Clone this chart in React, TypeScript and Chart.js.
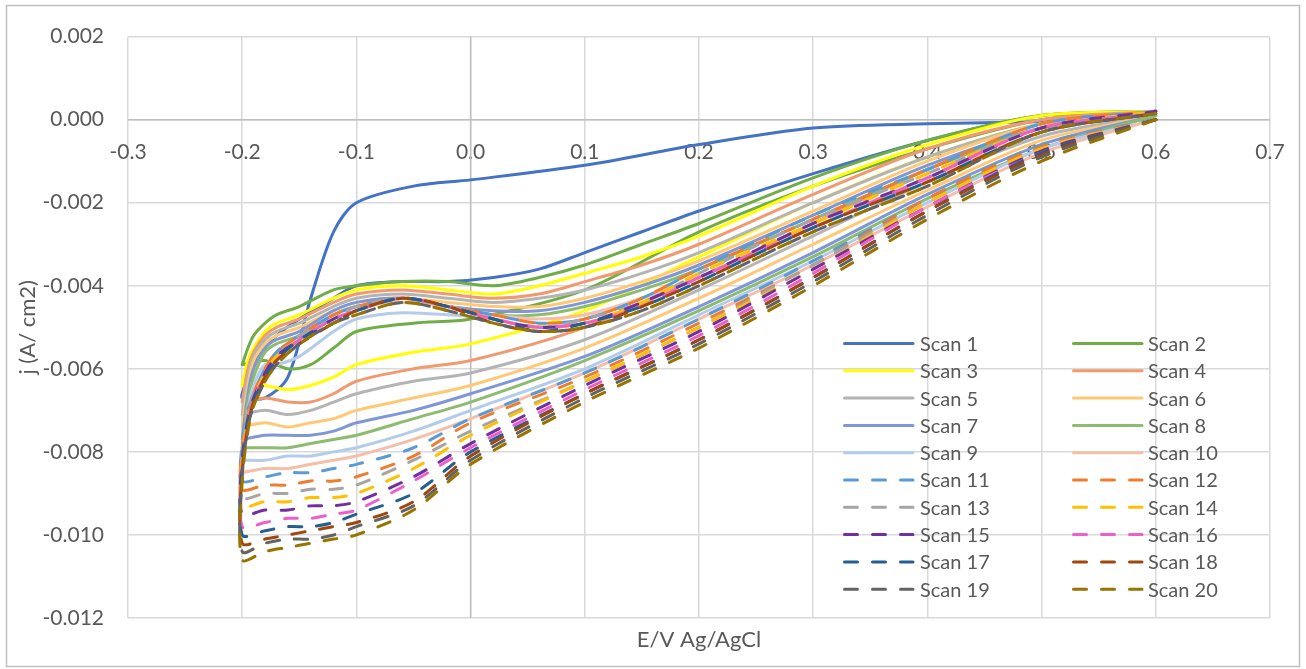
import React, { useEffect, useRef } from 'react';
import { Chart, registerables } from 'chart.js';

Chart.register(...registerables);

const scanLabels = [
  'Scan 1', 'Scan 2', 'Scan 3', 'Scan 4', 'Scan 5', 'Scan 6', 'Scan 7', 'Scan 8', 'Scan 9', 'Scan 10',
  'Scan 11', 'Scan 12', 'Scan 13', 'Scan 14', 'Scan 15', 'Scan 16', 'Scan 17', 'Scan 18', 'Scan 19', 'Scan 20',
];

const scanColors = [
  '#4472C4', '#70AD47', '#FFFF00', '#F19A6F', '#B4B4B4', '#FFC875', '#7F97D6', '#8DBB6F', '#B4CCEA', '#F4BFAA',
  '#5B9BD5', '#ED7D31', '#A5A5A5', '#FFC000', '#7030A0', '#EE5FCC', '#255E91', '#9E480E', '#636363', '#997300',
];

const dashedScans = [false, false, false, false, false, false, false, false, false, false,
  true, true, true, true, true, true, true, true, true, true];

// Cathodic sweep (0.6 V -> -0.2 V)
const lowerPotentials = [0.6, 0.5, 0.4, 0.3, 0.2, 0.1, 0.0, -0.05, -0.1, -0.12, -0.14, -0.16, -0.18, -0.2];

const lowerCurrents: number[][] = [
  [0.0, -0.00005, -0.0001, -0.0002, -0.0006, -0.0011, -0.00145, -0.0016, -0.002, -0.0027, -0.0043, -0.0062, -0.0067, -0.0067],
  [0.0002, 0.0, -0.0007, -0.0016, -0.0027, -0.0041, -0.0048, -0.0049, -0.0051, -0.0055, -0.0059, -0.006, -0.0058, -0.0059],
  [0.0002, -0.0001, -0.0009, -0.002, -0.0033, -0.0046, -0.0054, -0.0056, -0.0059, -0.0062, -0.0064, -0.0065, -0.0064, -0.0064],
  [0.0002, -0.0002, -0.0012, -0.0025, -0.0038, -0.005, -0.0058, -0.006, -0.0063, -0.0066, -0.0068, -0.0068, -0.0067, -0.0068],
  [0.0001, -0.0004, -0.0015, -0.0028, -0.0041, -0.0053, -0.0061, -0.0063, -0.0066, -0.0068, -0.007, -0.0071, -0.007, -0.0071],
  [0.0001, -0.0005, -0.0017, -0.003, -0.0043, -0.0055, -0.0064, -0.0067, -0.007, -0.0072, -0.0073, -0.0074, -0.0073, -0.0074],
  [0.0001, -0.0006, -0.0018, -0.0032, -0.0045, -0.0057, -0.0066, -0.007, -0.0073, -0.0075, -0.0076, -0.0076, -0.0076, -0.0077],
  [0.0001, -0.0007, -0.0019, -0.0033, -0.0046, -0.0058, -0.0068, -0.0072, -0.0076, -0.0077, -0.0078, -0.0079, -0.0079, -0.0079],
  [0.0, -0.0007, -0.002, -0.0034, -0.0047, -0.006, -0.007, -0.0075, -0.0079, -0.008, -0.0081, -0.0081, -0.0082, -0.0082],
  [0.0, -0.0008, -0.0021, -0.0035, -0.0048, -0.0061, -0.0072, -0.0077, -0.0081, -0.0082, -0.0083, -0.0084, -0.0084, -0.0085],
  [0.0, -0.0006, -0.0019, -0.0034, -0.0048, -0.0061, -0.0072, -0.0079, -0.0083, -0.0084, -0.0085, -0.0085, -0.0086, -0.0087],
  [0.0, -0.00065, -0.0019, -0.0035, -0.0049, -0.0062, -0.0073, -0.0081, -0.0086, -0.0087, -0.0087, -0.0088, -0.0088, -0.0089],
  [0.0, -0.0007, -0.002, -0.0035, -0.005, -0.0063, -0.0075, -0.0082, -0.0088, -0.0089, -0.0089, -0.009, -0.009, -0.0091],
  [0.0, -0.0007, -0.002, -0.0036, -0.005, -0.0063, -0.0076, -0.0084, -0.009, -0.0091, -0.0091, -0.0092, -0.0092, -0.0093],
  [0.0, -0.00075, -0.0021, -0.0036, -0.0051, -0.0064, -0.0078, -0.0086, -0.0092, -0.0093, -0.0093, -0.0094, -0.0094, -0.0095],
  [0.0, -0.0008, -0.0021, -0.0037, -0.0052, -0.0065, -0.0079, -0.0087, -0.0094, -0.0095, -0.0096, -0.0096, -0.0097, -0.0098],
  [0.0, -0.0008, -0.0022, -0.0038, -0.0053, -0.0066, -0.008, -0.009, -0.0095, -0.0097, -0.0098, -0.0098, -0.0099, -0.01],
  [0.0, -0.00085, -0.0022, -0.0038, -0.0053, -0.0066, -0.0081, -0.0092, -0.0097, -0.0098, -0.0099, -0.01, -0.0101, -0.0102],
  [0.0, -0.0009, -0.0023, -0.0039, -0.0054, -0.0067, -0.0082, -0.0093, -0.0098, -0.01, -0.0101, -0.0101, -0.0102, -0.0104],
  [0.0, -0.001, -0.0024, -0.004, -0.0055, -0.0068, -0.0083, -0.0094, -0.01, -0.0101, -0.0102, -0.0103, -0.0104, -0.0106],
];

// Anodic sweep (-0.2 V -> 0.6 V)
const upperPotentials = [-0.2, -0.195, -0.19, -0.18, -0.17, -0.15, -0.12, -0.1, -0.06, -0.02, 0.02, 0.06, 0.1, 0.15, 0.2, 0.3, 0.4, 0.5, 0.6];

const upperCurrents: number[][] = [
  [-0.0066, -0.0062, -0.0059, -0.0055, -0.0052, -0.0048, -0.0043, -0.004, -0.0039, -0.0039, -0.0038, -0.0036, -0.0032, -0.0027, -0.0022, -0.0013, -0.0005, 0.0001, 0.0002],
  [-0.0059, -0.0055, -0.0052, -0.0049, -0.0047, -0.0045, -0.0041, -0.004, -0.0039, -0.0039, -0.004, -0.0038, -0.0035, -0.003, -0.0025, -0.0014, -0.0005, 0.0001, 0.0002],
  [-0.0064, -0.0058, -0.0055, -0.0051, -0.0049, -0.0047, -0.0043, -0.0041, -0.004, -0.0041, -0.0042, -0.004, -0.0037, -0.0033, -0.0028, -0.0016, -0.0006, 0.0001, 0.0002],
  [-0.0068, -0.006, -0.0056, -0.0052, -0.005, -0.0048, -0.0044, -0.0042, -0.0041, -0.0042, -0.0043, -0.0042, -0.0039, -0.0035, -0.003, -0.0018, -0.0007, 0.0, 0.0002],
  [-0.0071, -0.0062, -0.0057, -0.0053, -0.0051, -0.0049, -0.0045, -0.0043, -0.0042, -0.0043, -0.0044, -0.0043, -0.0041, -0.0037, -0.0032, -0.002, -0.0009, -0.0001, 0.0002],
  [-0.0074, -0.0064, -0.0058, -0.0054, -0.0052, -0.005, -0.0046, -0.0044, -0.0043, -0.0044, -0.0045, -0.0045, -0.0043, -0.0039, -0.0034, -0.0022, -0.001, -0.0001, 0.0002],
  [-0.0077, -0.0066, -0.006, -0.0055, -0.0053, -0.0051, -0.0046, -0.0044, -0.0043, -0.0045, -0.0046, -0.0046, -0.0044, -0.004, -0.0035, -0.0023, -0.0011, -0.0002, 0.0002],
  [-0.0079, -0.0068, -0.0062, -0.0056, -0.0054, -0.0052, -0.0047, -0.0045, -0.0044, -0.0045, -0.0047, -0.0047, -0.0045, -0.0041, -0.0036, -0.0024, -0.0012, -0.0002, 0.0002],
  [-0.0082, -0.007, -0.0064, -0.0059, -0.0059, -0.0057, -0.0051, -0.0048, -0.00465, -0.0047, -0.0048, -0.005, -0.0048, -0.0043, -0.0038, -0.0026, -0.0014, -0.0003, 0.0002],
  [-0.0085, -0.0072, -0.0066, -0.006, -0.0056, -0.0052, -0.0047, -0.0045, -0.0044, -0.0045, -0.0047, -0.0048, -0.0047, -0.0043, -0.0038, -0.0026, -0.0014, -0.0003, 0.0002],
  [-0.0078, -0.007, -0.0066, -0.006, -0.0056, -0.0052, -0.0047, -0.0045, -0.0043, -0.0045, -0.0047, -0.0049, -0.0048, -0.0043, -0.0036, -0.0023, -0.0012, -0.0001, 0.0002],
  [-0.0079, -0.0071, -0.0066, -0.006, -0.0056, -0.0052, -0.0047, -0.0045, -0.0043, -0.0045, -0.0047, -0.0049, -0.0048, -0.0043, -0.0036, -0.0024, -0.0012, -0.0001, 0.0002],
  [-0.008, -0.0071, -0.0066, -0.0061, -0.0057, -0.0052, -0.0048, -0.0045, -0.0043, -0.0045, -0.0048, -0.005, -0.0048, -0.0044, -0.0037, -0.0024, -0.0013, -0.0002, 0.0002],
  [-0.0081, -0.0072, -0.0067, -0.0061, -0.0057, -0.0053, -0.0048, -0.0046, -0.0043, -0.0045, -0.0048, -0.005, -0.0049, -0.0044, -0.0037, -0.0025, -0.0013, -0.0002, 0.0002],
  [-0.0082, -0.0072, -0.0067, -0.0061, -0.0057, -0.0053, -0.0048, -0.0046, -0.0043, -0.0045, -0.0048, -0.005, -0.0049, -0.0044, -0.0038, -0.0025, -0.0014, -0.0002, 0.0002],
  [-0.0083, -0.0073, -0.0067, -0.0062, -0.0058, -0.0053, -0.0048, -0.0046, -0.0043, -0.0045, -0.0048, -0.005, -0.0049, -0.0045, -0.0038, -0.0026, -0.0014, -0.0002, 0.00015],
  [-0.0084, -0.0073, -0.0068, -0.0062, -0.0058, -0.0053, -0.0049, -0.0046, -0.0043, -0.0045, -0.0048, -0.0051, -0.0049, -0.0045, -0.0039, -0.0026, -0.0015, -0.0003, 0.00015],
  [-0.0085, -0.0074, -0.0068, -0.0062, -0.0058, -0.0054, -0.0049, -0.0046, -0.0043, -0.0045, -0.0049, -0.0051, -0.005, -0.0045, -0.0039, -0.0026, -0.0015, -0.0003, 0.00015],
  [-0.0086, -0.0074, -0.0069, -0.0063, -0.0059, -0.0054, -0.0049, -0.0047, -0.0044, -0.0046, -0.0049, -0.0051, -0.005, -0.0046, -0.004, -0.0027, -0.0016, -0.0003, 0.00015],
  [-0.0087, -0.0075, -0.0069, -0.0063, -0.0059, -0.0054, -0.0049, -0.0047, -0.0044, -0.0046, -0.0049, -0.0051, -0.005, -0.0046, -0.004, -0.0027, -0.0016, -0.0003, 0.00015],
];

const xMin = -0.3;
const xMax = 0.7;
const xStep = 0.1;
const yMin = -0.012;
const yMax = 0.002;
const yStep = 0.002;

const xTitle = 'E/V Ag/AgCl';
const yTitle = 'j (A/ cm2)';

const textColor = '#595959';
const gridColor = '#D9D9D9';
const dashPattern = [13, 15];

const decorPlugin = {
  id: 'decor',
  beforeDatasetsDraw(chart: any) {
    const { ctx, chartArea, scales } = chart;
    const x0 = scales.x.getPixelForValue(0);
    const y0 = scales.y.getPixelForValue(0);
    ctx.save();
    ctx.strokeStyle = '#BFBFBF';
    ctx.lineWidth = 1.5;
    ctx.beginPath();
    ctx.moveTo(chartArea.left, y0);
    ctx.lineTo(chartArea.right, y0);
    ctx.moveTo(x0, chartArea.top);
    ctx.lineTo(x0, chartArea.bottom);
    ctx.stroke();
    ctx.restore();
  },
  afterDraw(chart: any) {
    const { ctx, chartArea } = chart;
    ctx.save();
    // outer border
    ctx.strokeStyle = '#BFBFBF';
    ctx.lineWidth = 1.5;
    ctx.strokeRect(6.5, 5.5, 1293, 661);

    // axis titles
    ctx.fillStyle = textColor;
    ctx.font = '22px Lato';
    ctx.textAlign = 'center';
    ctx.textBaseline = 'middle';
    ctx.fillText(xTitle, (chartArea.left + chartArea.right) / 2, 640);
    ctx.save();
    ctx.translate(28, (chartArea.top + chartArea.bottom) / 2);
    ctx.rotate(-Math.PI / 2);
    ctx.fillText(yTitle, 0, 0);
    ctx.restore();

    // legend
    ctx.font = '20px Lato';
    ctx.textAlign = 'left';
    for (let i = 0; i < scanLabels.length; i++) {
      const col = i % 2;
      const row = Math.floor(i / 2);
      const lx = col === 0 ? 843 : 1072;
      const ly = 343.5 + row * 27.3;
      ctx.strokeStyle = scanColors[i];
      ctx.lineWidth = 3;
      ctx.lineCap = 'round';
      ctx.setLineDash(dashedScans[i] ? dashPattern : []);
      ctx.beginPath();
      ctx.moveTo(lx + 1.5, ly);
      ctx.lineTo(lx + 70, ly);
      ctx.stroke();
      ctx.setLineDash([]);
      ctx.fillStyle = textColor;
      ctx.fillText(scanLabels[i], col === 0 ? 920 : 1148, ly + 1);
    }
    ctx.restore();
  },
};

export default function App() {
  const canvasRef = useRef<HTMLCanvasElement | null>(null);

  useEffect(() => {
    if (!canvasRef.current) return;
    const datasets = scanLabels.map((label, i) => ({
      label,
      data: lowerPotentials
        .map((e, k) => ({ x: e, y: lowerCurrents[i][k] }))
        .concat(upperPotentials.map((e, k) => ({ x: e, y: upperCurrents[i][k] }))),
      showLine: true,
      borderColor: scanColors[i],
      backgroundColor: scanColors[i],
      borderWidth: 3,
      borderDash: dashedScans[i] ? dashPattern : [],
      borderCapStyle: 'round' as const,
      borderJoinStyle: 'round' as const,
      pointRadius: 0,
      pointHoverRadius: 0,
      tension: 0.3,
      order: scanLabels.length - i,
    }));

    const fmt = (v: number, d: number) => {
      const n = Math.abs(v) < 1e-9 ? 0 : v;
      return n.toFixed(d);
    };

    const chart = new Chart(canvasRef.current, {
      type: 'scatter',
      data: { datasets },
      plugins: [decorPlugin],
      options: {
        animation: false,
        responsive: false,
        devicePixelRatio: 1,
        layout: { padding: { left: 0, right: 36, top: 36, bottom: 51 } },
        plugins: {
          legend: { display: false },
          tooltip: { enabled: false },
        },
        scales: {
          x: {
            type: 'linear',
            min: xMin,
            max: xMax,
            position: { y: 0 } as any,
            border: { display: false },
            grid: { color: gridColor, lineWidth: 1.5, drawTicks: false },
            ticks: {
              stepSize: xStep,
              color: textColor,
              font: { family: 'Lato', size: 21 },
              padding: 20,
              maxRotation: 0,
              autoSkip: false,
              callback: (v: any) => fmt(Number(v), 1),
            },
          },
          y: {
            type: 'linear',
            min: yMin,
            max: yMax,
            position: 'left',
            border: { display: false },
            grid: { color: gridColor, lineWidth: 1.5, drawTicks: false },
            afterFit: (scale: any) => {
              scale.width = 128;
            },
            ticks: {
              stepSize: yStep,
              color: textColor,
              font: { family: 'Lato', size: 21 },
              padding: 24,
              autoSkip: false,
              callback: (v: any) => fmt(Number(v), 3),
            },
          },
        },
      } as any,
    });
    return () => chart.destroy();
  }, []);

  return (
    <div style={{ position: 'absolute', left: 0, top: 0, width: 1306, height: 669, background: '#FFFFFF' }}>
      <canvas ref={canvasRef} width={1306} height={669} style={{ display: 'block' }} />
    </div>
  );
}
